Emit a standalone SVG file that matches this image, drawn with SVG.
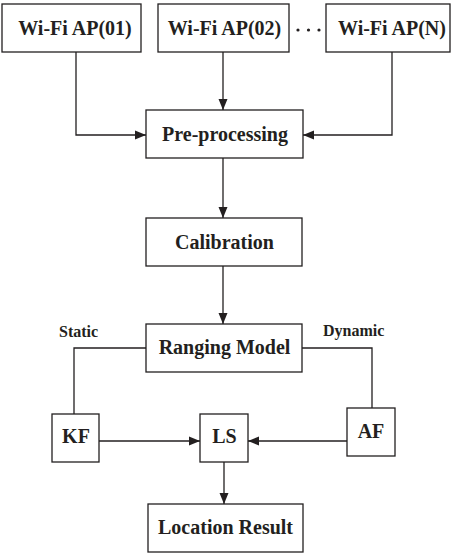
<svg xmlns="http://www.w3.org/2000/svg" width="451" height="553" viewBox="0 0 451 553">
<style>
.box{fill:#fff;stroke:#231f20;stroke-width:1.3}
.t{font-family:"Liberation Serif","Times New Roman",serif;font-weight:bold;font-size:20px;fill:#231f20;text-anchor:middle}
.s{font-family:"Liberation Serif","Times New Roman",serif;font-weight:bold;font-size:16px;fill:#231f20}
.c{fill:none;stroke:#231f20;stroke-width:1.3}
.a{marker-end:url(#arr)}
</style>
<defs>
<marker id="arr" markerUnits="userSpaceOnUse" markerWidth="11" markerHeight="10" viewBox="0 0 11 10" refX="11" refY="5" orient="auto">
<path d="M0,0.5 L11,5 L0,9.5 z" fill="#231f20"/>
</marker>
</defs>
<rect width="451" height="553" fill="#fff"/>
<g id="connectors">
<polyline class="c a" points="76,52 76,135 146,135"/>
<line class="c a" x1="223" y1="52" x2="223" y2="110"/>
<polyline class="c a" points="392,52 392,135 303,135"/>
<line class="c a" x1="223" y1="158" x2="223" y2="218"/>
<line class="c a" x1="223" y1="266" x2="223" y2="324"/>
<polyline class="c" points="146,348 74,348 74,414"/>
<polyline class="c" points="302,348 372,348 372,408"/>
<line class="c a" x1="99" y1="441" x2="200" y2="441"/>
<line class="c a" x1="347" y1="441" x2="248" y2="441"/>
<line class="c a" x1="224" y1="462" x2="224" y2="504"/>
</g>
<g id="ap01"><rect class="box" x="2" y="4" width="139" height="48"/><text class="t" x="75" y="35">Wi-Fi AP(01)</text></g>
<g id="ap02"><rect class="box" x="158" y="4" width="131" height="48"/><text class="t" x="224.5" y="35">Wi-Fi AP(02)</text></g>
<g id="dots" fill="#231f20"><circle cx="298" cy="30" r="1.6"/><circle cx="308.5" cy="30" r="1.6"/><circle cx="319" cy="30" r="1.6"/></g>
<g id="apN"><rect class="box" x="326" y="4" width="124" height="48"/><text class="t" x="392" y="35">Wi-Fi AP(N)</text></g>
<g id="preprocessing"><rect class="box" x="146" y="110" width="157" height="48"/><text class="t" x="225" y="140.5">Pre-processing</text></g>
<g id="calibration"><rect class="box" x="146" y="218" width="156" height="48"/><text class="t" x="224.5" y="248.5">Calibration</text></g>
<g id="ranging"><rect class="box" x="146" y="324" width="156" height="48"/><text class="t" x="224.5" y="354">Ranging Model</text></g>
<g id="static-label"><text class="s" x="59" y="337">Static</text></g>
<g id="dynamic-label"><text class="s" x="323" y="336">Dynamic</text></g>
<g id="kf"><rect class="box" x="52" y="414" width="47" height="48"/><text class="t" x="76" y="443">KF</text></g>
<g id="ls"><rect class="box" x="200" y="414" width="48" height="48"/><text class="t" x="224.5" y="443">LS</text></g>
<g id="af"><rect class="box" x="347" y="408" width="48" height="48"/><text class="t" x="371" y="438">AF</text></g>
<g id="location"><rect class="box" x="148" y="504" width="155" height="48"/><text class="t" x="225.5" y="533.5">Location Result</text></g>
</svg>
